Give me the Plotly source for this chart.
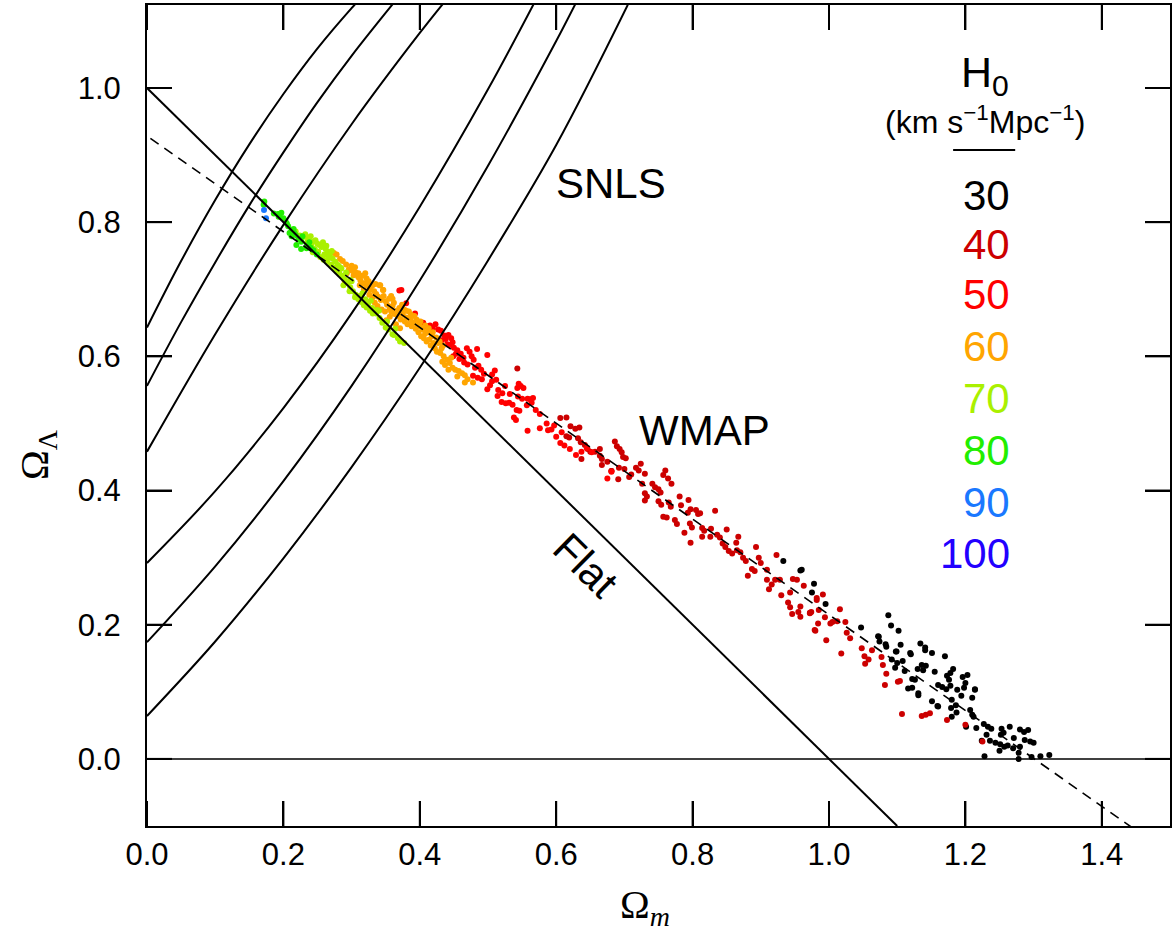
import plotly.graph_objects as go

# ---------------- data ----------------
# SNLS contour curves (Omega_m, Omega_Lambda)
snls1_x = [0.0, 0.05, 0.10, 0.15, 0.20, 0.25, 0.30, 0.31]
snls1_y = [0.643, 0.742, 0.833, 0.916, 0.991, 1.059, 1.119, 1.130]
snls2_x = [0.0, 0.05, 0.10, 0.15, 0.20, 0.25, 0.30, 0.365]
snls2_y = [0.556, 0.651, 0.740, 0.825, 0.904, 0.979, 1.048, 1.131]
snls3_x = [0.0, 0.10, 0.20, 0.30, 0.40, 0.44]
snls3_y = [0.458, 0.633, 0.796, 0.946, 1.082, 1.133]
snls4_x = [0.0, 0.10, 0.20, 0.30, 0.40, 0.50, 0.57]
snls4_y = [0.292, 0.399, 0.523, 0.664, 0.823, 0.998, 1.131]
snls5_x = [0.0, 0.10, 0.20, 0.30, 0.40, 0.50, 0.60, 0.63]
snls5_y = [0.174, 0.287, 0.414, 0.556, 0.713, 0.884, 1.070, 1.129]
snls6_x = [0.0, 0.10, 0.20, 0.30, 0.40, 0.50, 0.60, 0.705]
snls6_y = [0.064, 0.175, 0.299, 0.435, 0.583, 0.743, 0.915, 1.124]

flat_x = [0.0, 1.1]
flat_y = [1.0, -0.1]
wmap_fit_x = [0.005, 1.5]
wmap_fit_y = [0.925, -0.142]
zero_x = [0.0, 1.5]
zero_y = [0.0, 0.0]
# short rule under the H0 units
rule_x = [1.182, 1.273]
rule_y = [0.9076, 0.9076]

# WMAP chain samples, grouped by H0 (km/s/Mpc)
h90_pts = [(0.1716, 0.818), (0.1745, 0.806)]
h80_pts = [(0.171, 0.826), (0.172, 0.831), (0.186, 0.813), (0.192, 0.812), (0.197, 0.814),
           (0.193, 0.808), (0.200, 0.806), (0.203, 0.802), (0.205, 0.798), (0.207, 0.794),
           (0.209, 0.784), (0.212, 0.788), (0.215, 0.790), (0.216, 0.784), (0.212, 0.779),
           (0.218, 0.781), (0.219, 0.766), (0.222, 0.775), (0.226, 0.771), (0.228, 0.779),
           (0.234, 0.764), (0.238, 0.770), (0.226, 0.760), (0.244, 0.758), (0.240, 0.762),
           (0.249, 0.752), (0.234, 0.761), (0.195, 0.812)]
h70_pts = [(0.218, 0.786), (0.224, 0.780), (0.229, 0.778), (0.232, 0.782), (0.236, 0.776),
           (0.240, 0.779), (0.243, 0.771), (0.247, 0.773), (0.250, 0.768), (0.253, 0.766),
           (0.256, 0.763), (0.258, 0.770), (0.262, 0.760), (0.265, 0.756), (0.268, 0.752),
           (0.271, 0.757), (0.254, 0.748), (0.259, 0.744), (0.264, 0.741), (0.270, 0.737),
           (0.274, 0.732), (0.278, 0.728), (0.282, 0.724), (0.286, 0.720), (0.290, 0.715),
           (0.294, 0.709), (0.298, 0.703), (0.302, 0.697), (0.306, 0.692), (0.310, 0.685),
           (0.314, 0.681), (0.318, 0.676), (0.322, 0.673), (0.327, 0.668), (0.331, 0.664),
           (0.336, 0.664), (0.337, 0.669), (0.341, 0.657), (0.345, 0.650), (0.350, 0.643),
           (0.354, 0.640), (0.360, 0.633), (0.362, 0.632), (0.368, 0.627), (0.371, 0.622),
           (0.377, 0.620), (0.246, 0.760), (0.251, 0.756), (0.276, 0.741), (0.280, 0.736),
           (0.285, 0.731), (0.260, 0.752), (0.266, 0.747), (0.288, 0.706), (0.297, 0.697),
           (0.305, 0.688), (0.312, 0.690), (0.298, 0.714), (0.272, 0.746), (0.235, 0.770),
           (0.241, 0.766), (0.263, 0.765), (0.283, 0.733), (0.292, 0.725), (0.300, 0.712),
           (0.243, 0.755), (0.320, 0.685), (0.324, 0.678), (0.330, 0.672), (0.316, 0.694),
           (0.328, 0.683), (0.340, 0.668), (0.352, 0.652), (0.364, 0.641)]
h60_pts = [(0.274, 0.754), (0.278, 0.752), (0.283, 0.745), (0.287, 0.742), (0.292, 0.737),
           (0.293, 0.724), (0.290, 0.712), (0.296, 0.730), (0.300, 0.728), (0.303, 0.721),
           (0.306, 0.725), (0.310, 0.718), (0.313, 0.713), (0.316, 0.720), (0.318, 0.709),
           (0.322, 0.706), (0.325, 0.712), (0.327, 0.700), (0.330, 0.705), (0.333, 0.697),
           (0.336, 0.693), (0.339, 0.689), (0.342, 0.706), (0.343, 0.684), (0.346, 0.699),
           (0.347, 0.690), (0.350, 0.682), (0.352, 0.677), (0.355, 0.686), (0.356, 0.671),
           (0.358, 0.667), (0.360, 0.675), (0.362, 0.680), (0.363, 0.663), (0.366, 0.668),
           (0.368, 0.660), (0.370, 0.672), (0.372, 0.655), (0.375, 0.663), (0.378, 0.652),
           (0.380, 0.658), (0.382, 0.648), (0.384, 0.667), (0.386, 0.655), (0.388, 0.645),
           (0.390, 0.650), (0.392, 0.660), (0.394, 0.641), (0.396, 0.648), (0.398, 0.636),
           (0.400, 0.645), (0.402, 0.630), (0.404, 0.640), (0.406, 0.627), (0.408, 0.634),
           (0.410, 0.622), (0.412, 0.639), (0.414, 0.625), (0.416, 0.616), (0.418, 0.630),
           (0.420, 0.620), (0.422, 0.612), (0.425, 0.607), (0.427, 0.620), (0.430, 0.605),
           (0.433, 0.592), (0.435, 0.600), (0.437, 0.587), (0.440, 0.595), (0.444, 0.590),
           (0.448, 0.583), (0.452, 0.580), (0.457, 0.578), (0.462, 0.575), (0.466, 0.572),
           (0.466, 0.561), (0.478, 0.561), (0.356, 0.659), (0.351, 0.654), (0.341, 0.706),
           (0.322, 0.716), (0.310, 0.724), (0.300, 0.735), (0.334, 0.680), (0.338, 0.675),
           (0.344, 0.670), (0.349, 0.667), (0.365, 0.648), (0.371, 0.642), (0.360, 0.686),
           (0.374, 0.677), (0.380, 0.668), (0.387, 0.662), (0.395, 0.655), (0.401, 0.652),
           (0.408, 0.646), (0.413, 0.642), (0.419, 0.636), (0.424, 0.628), (0.429, 0.622),
           (0.434, 0.616), (0.312, 0.706), (0.318, 0.700), (0.326, 0.692), (0.331, 0.688),
           (0.284, 0.731), (0.3465, 0.699), (0.442, 0.580), (0.455, 0.570), (0.470, 0.566),
           (0.305, 0.733), (0.320, 0.724), (0.335, 0.708), (0.358, 0.690), (0.377, 0.670),
           (0.398, 0.652), (0.416, 0.635), (0.432, 0.612), (0.446, 0.598)]
h50_pts = [(0.370, 0.698), (0.373, 0.699), (0.380, 0.679), (0.393, 0.664), (0.405, 0.650),
           (0.411, 0.645), (0.415, 0.646), (0.419, 0.642), (0.423, 0.648), (0.427, 0.640),
           (0.431, 0.638), (0.436, 0.631), (0.438, 0.626), (0.442, 0.632), (0.446, 0.627),
           (0.448, 0.621), (0.444, 0.617), (0.450, 0.613), (0.455, 0.609), (0.449, 0.600),
           (0.453, 0.604), (0.460, 0.604), (0.464, 0.598), (0.465, 0.591), (0.469, 0.612),
           (0.473, 0.607), (0.476, 0.600), (0.479, 0.595), (0.484, 0.611), (0.481, 0.583),
           (0.486, 0.586), (0.490, 0.580), (0.499, 0.602), (0.478, 0.571), (0.485, 0.568),
           (0.491, 0.566), (0.494, 0.574), (0.506, 0.573), (0.499, 0.551), (0.503, 0.557),
           (0.506, 0.563), (0.512, 0.565), (0.514, 0.541), (0.521, 0.545), (0.520, 0.532),
           (0.526, 0.530), (0.531, 0.531), (0.536, 0.528), (0.543, 0.553), (0.545, 0.559),
           (0.548, 0.556), (0.552, 0.553), (0.544, 0.540), (0.550, 0.537), (0.558, 0.537),
           (0.562, 0.536), (0.566, 0.538), (0.542, 0.520), (0.538, 0.509), (0.541, 0.505),
           (0.546, 0.519), (0.557, 0.527), (0.564, 0.531), (0.576, 0.514), (0.558, 0.489),
           (0.576, 0.493), (0.586, 0.500), (0.588, 0.490), (0.593, 0.491), (0.600, 0.480),
           (0.606, 0.471), (0.612, 0.467), (0.620, 0.462), (0.629, 0.453), (0.637, 0.458),
           (0.645, 0.463), (0.652, 0.457), (0.675, 0.418), (0.681, 0.428), (0.608, 0.487),
           (0.597, 0.497), (0.570, 0.520), (0.532, 0.544), (0.525, 0.556), (0.515, 0.550),
           (0.510, 0.579), (0.470, 0.588), (0.458, 0.596), (0.440, 0.618), (0.432, 0.624)]
h40_pts = [(0.543, 0.582), (0.606, 0.508), (0.615, 0.509), (0.621, 0.496), (0.628, 0.492),
           (0.634, 0.494), (0.615, 0.481), (0.619, 0.479), (0.632, 0.478), (0.636, 0.472),
           (0.642, 0.468), (0.646, 0.462), (0.650, 0.458), (0.637, 0.447), (0.657, 0.458),
           (0.664, 0.452), (0.686, 0.473), (0.689, 0.466), (0.693, 0.462), (0.696, 0.457),
           (0.702, 0.448), (0.675, 0.443), (0.667, 0.438), (0.681, 0.429), (0.692, 0.434),
           (0.691, 0.417), (0.698, 0.450), (0.700, 0.432), (0.707, 0.420), (0.710, 0.424),
           (0.717, 0.434), (0.721, 0.430), (0.724, 0.440), (0.726, 0.410), (0.730, 0.425),
           (0.730, 0.396), (0.733, 0.391), (0.730, 0.385), (0.741, 0.410), (0.745, 0.405),
           (0.750, 0.402), (0.753, 0.397), (0.757, 0.423), (0.760, 0.430), (0.750, 0.384),
           (0.754, 0.379), (0.757, 0.361), (0.762, 0.360), (0.765, 0.382), (0.768, 0.376),
           (0.764, 0.418), (0.769, 0.410), (0.774, 0.356), (0.777, 0.350), (0.783, 0.378),
           (0.781, 0.391), (0.794, 0.386), (0.793, 0.367), (0.797, 0.372), (0.788, 0.337),
           (0.797, 0.322), (0.796, 0.351), (0.799, 0.345), (0.805, 0.371), (0.808, 0.365),
           (0.811, 0.366), (0.814, 0.344), (0.817, 0.340), (0.814, 0.331), (0.826, 0.331),
           (0.833, 0.370), (0.827, 0.343), (0.836, 0.334), (0.840, 0.330), (0.844, 0.321),
           (0.848, 0.316), (0.850, 0.342), (0.853, 0.310), (0.858, 0.306), (0.864, 0.322),
           (0.867, 0.331), (0.865, 0.311), (0.870, 0.308), (0.874, 0.300), (0.878, 0.295),
           (0.881, 0.273), (0.887, 0.283), (0.891, 0.280), (0.893, 0.316), (0.897, 0.300),
           (0.900, 0.292), (0.909, 0.267), (0.912, 0.253), (0.909, 0.282), (0.916, 0.260),
           (0.921, 0.267), (0.923, 0.304), (0.928, 0.267), (0.930, 0.244), (0.940, 0.233),
           (0.943, 0.226), (0.947, 0.268), (0.953, 0.267), (0.955, 0.219), (0.958, 0.212),
           (0.946, 0.216), (0.963, 0.258), (0.972, 0.217), (0.974, 0.219), (0.980, 0.191),
           (0.982, 0.240), (0.985, 0.222), (0.991, 0.245), (0.982, 0.237), (0.994, 0.211),
           (0.996, 0.177), (1.002, 0.202), (1.005, 0.204), (1.012, 0.205), (1.016, 0.223),
           (1.018, 0.157), (1.026, 0.188), (1.031, 0.180), (1.024, 0.204), (1.048, 0.165),
           (1.052, 0.153), (1.058, 0.148), (1.053, 0.142), (1.063, 0.162), (1.077, 0.152),
           (1.079, 0.140), (1.084, 0.127), (1.082, 0.110), (1.101, 0.115), (1.104, 0.116),
           (1.107, 0.067), (1.136, 0.064), (1.142, 0.066), (1.148, 0.068), (1.173, 0.058),
           (1.200, 0.051), (1.225, 0.026), (0.958, 0.227), (0.972, 0.218), (0.984, 0.202),
           (0.979, 0.192), (0.943, 0.248), (0.664, 0.462), (0.667, 0.447), (0.681, 0.429)]
h30_pts = [(0.933, 0.295), (0.958, 0.281), (0.960, 0.282), (0.978, 0.261), (0.975, 0.248),
           (0.995, 0.231), (1.047, 0.196), (1.072, 0.183), (1.074, 0.175), (1.087, 0.214),
           (1.091, 0.199), (1.102, 0.191), (1.084, 0.167), (1.098, 0.160), (1.105, 0.170),
           (1.092, 0.148), (1.100, 0.143), (1.108, 0.146), (1.097, 0.136), (1.120, 0.156),
           (1.134, 0.172), (1.141, 0.166), (1.151, 0.158), (1.142, 0.139), (1.138, 0.132),
           (1.130, 0.134), (1.126, 0.118), (1.122, 0.106), (1.131, 0.095), (1.111, 0.131),
           (1.155, 0.130), (1.170, 0.153), (1.173, 0.124), (1.176, 0.118), (1.182, 0.134),
           (1.166, 0.107), (1.160, 0.110), (1.172, 0.104), (1.178, 0.109), (1.196, 0.122),
           (1.203, 0.125), (1.198, 0.106), (1.214, 0.104), (1.194, 0.094), (1.180, 0.088),
           (1.151, 0.086), (1.159, 0.079), (1.179, 0.076), (1.186, 0.080), (1.207, 0.073),
           (1.210, 0.066), (1.187, 0.069), (1.180, 0.063), (1.212, 0.063), (1.201, 0.048),
           (1.216, 0.046), (1.227, 0.052), (1.233, 0.048), (1.238, 0.045), (1.231, 0.036),
           (1.224, 0.027), (1.244, 0.024), (1.253, 0.045), (1.256, 0.039), (1.265, 0.048),
           (1.257, 0.018), (1.262, 0.020), (1.280, 0.044), (1.286, 0.040), (1.292, 0.043),
           (1.295, 0.026), (1.280, 0.018), (1.270, 0.016), (1.250, 0.012), (1.228, 0.004),
           (1.278, 0.009), (1.278, 0.000), (1.300, 0.024), (1.310, 0.004), (1.323, 0.006),
           (1.297, 0.003), (1.236, 0.027), (1.251, 0.022), (1.271, 0.031), (1.287, 0.028),
           (1.252, 0.036), (1.119, 0.158), (1.116, 0.105), (1.131, 0.098), (1.160, 0.078),
           (1.178, 0.128), (1.188, 0.103), (1.200, 0.113), (1.210, 0.091), (1.214, 0.103),
           (1.083, 0.171), (1.099, 0.160), (1.073, 0.182), (1.136, 0.140), (1.141, 0.162),
           (1.122, 0.119)]

h0_labels = ["30", "40", "50", "60", "70", "80", "90", "100"]
h0_colors = ["#000000", "#CC0000", "#FF0000", "#FFA500", "#AAF000", "#22EE00", "#1A78FF", "#2200FF"]
h0_label_y = [0.8405, 0.766, 0.6915, 0.614, 0.5365, 0.459, 0.3815, 0.3055]

x_ticks = [0.0, 0.2, 0.4, 0.6, 0.8, 1.0, 1.2, 1.4]
y_ticks = [0.0, 0.2, 0.4, 0.6, 0.8, 1.0]

# ---------------- figure ----------------
X_RANGE = [0.0, 1.5]
Y_RANGE = [-0.1, 1.1237]
W, H = 1174, 936
M = dict(l=147, r=4, t=5, b=110)
TICK_PX = 25

fig = go.Figure()

# inward tick marks on all four sides at the tick values (25 px converted to axis units)
dx = TICK_PX * (X_RANGE[1] - X_RANGE[0]) / (W - M["l"] - M["r"])
dy = TICK_PX * (Y_RANGE[1] - Y_RANGE[0]) / (H - M["t"] - M["b"])
tx, ty = [], []
for v in x_ticks:
    tx += [v, v, None, v, v, None]
    ty += [Y_RANGE[0], Y_RANGE[0] + dy, None, Y_RANGE[1], Y_RANGE[1] - dy, None]
for v in y_ticks:
    tx += [X_RANGE[0], X_RANGE[0] + dx, None, X_RANGE[1], X_RANGE[1] - dx, None]
    ty += [v, v, None, v, v, None]
fig.add_trace(go.Scatter(x=tx, y=ty, mode="lines", line=dict(color="black", width=2),
                         showlegend=False, hoverinfo="skip"))

groups = [(h30_pts, 0), (h40_pts, 1), (h50_pts, 2), (h60_pts, 3),
          (h70_pts, 4), (h80_pts, 5), (h90_pts, 6)]
for pts, ci in groups:
    xs, ys = zip(*pts)
    fig.add_trace(go.Scatter(x=list(xs), y=list(ys), mode="markers",
                             marker=dict(size=6, color=h0_colors[ci], line=dict(width=0)),
                             showlegend=False, hoverinfo="skip"))

for cx, cy in [(snls1_x, snls1_y), (snls2_x, snls2_y), (snls3_x, snls3_y),
               (snls4_x, snls4_y), (snls5_x, snls5_y), (snls6_x, snls6_y)]:
    fig.add_trace(go.Scatter(x=cx, y=cy, mode="lines", line=dict(color="black", width=2, shape="spline"),
                             showlegend=False, hoverinfo="skip"))

fig.add_trace(go.Scatter(x=flat_x, y=flat_y, mode="lines", line=dict(color="black", width=2),
                         showlegend=False, hoverinfo="skip"))
fig.add_trace(go.Scatter(x=zero_x, y=zero_y, mode="lines", line=dict(color="black", width=1.5),
                         showlegend=False, hoverinfo="skip"))
fig.add_trace(go.Scatter(x=wmap_fit_x, y=wmap_fit_y, mode="lines",
                         line=dict(color="black", width=1.6, dash="10px,7px"),
                         showlegend=False, hoverinfo="skip"))
fig.add_trace(go.Scatter(x=rule_x, y=rule_y, mode="lines", line=dict(color="black", width=2),
                         showlegend=False, hoverinfo="skip"))

FONT = "Liberation Sans, Arial, Helvetica, sans-serif"
SERIF = "Liberation Serif, Times New Roman, serif"

ann = [
    dict(x=0.680, y=0.858, text="SNLS", font=dict(size=42, family=FONT, color="black")),
    dict(x=0.818, y=0.490, text="WMAP", font=dict(size=42, family=FONT, color="black")),
    dict(x=0.644, y=0.289, text="Flat", textangle=44.5, font=dict(size=42, family=FONT, color="black")),
    dict(x=1.229, y=1.019, text="H<sub>0</sub>", font=dict(size=43, family=FONT, color="black")),
    dict(x=1.229, y=0.952, text="(km s<sup>−1</sup>Mpc<sup>−1</sup>)", font=dict(size=32, family=FONT, color="black")),
]
for lab, col, ly in zip(h0_labels, h0_colors, h0_label_y):
    ann.append(dict(x=1.268, y=ly, text=lab, xanchor="right", font=dict(size=42, family=FONT, color=col)))
for a in ann:
    a.setdefault("xanchor", "center")
    a.update(xref="x", yref="y", yanchor="middle", showarrow=False)

ann.append(dict(xref="paper", yref="paper", x=0.487, y=-0.099, text="Ω<sub><i>m</i></sub>",
                showarrow=False, xanchor="center", yanchor="middle",
                font=dict(size=40, family=SERIF, color="black")))
ann.append(dict(xref="paper", yref="paper", x=-0.1075, y=0.452, text="Ω<sub>Λ</sub>", textangle=-90,
                showarrow=False, xanchor="center", yanchor="middle",
                font=dict(size=40, family=SERIF, color="black")))

fig.update_layout(template="none", width=W, height=H, margin=M,
                  paper_bgcolor="white", plot_bgcolor="white",
                  font=dict(family=FONT, color="black"))
axis_common = dict(showline=True, linecolor="black", linewidth=2, mirror="ticks",
                   ticks="inside", ticklen=TICK_PX, tickwidth=2, tickcolor="black",
                   showgrid=False, zeroline=False, tickformat=".1f", automargin=False,
                   tickfont=dict(size=31, family=FONT, color="black"))
fig.update_xaxes(range=X_RANGE, tickmode="array", tickvals=x_ticks, **axis_common)
fig.update_yaxes(range=Y_RANGE, tickmode="array", tickvals=y_ticks,
                 ticklabelstandoff=18, **axis_common)
fig.update_layout(annotations=ann)

fig.write_html("out.html", config={"displayModeBar": False},
               post_script="document.body.style.margin='0';")
